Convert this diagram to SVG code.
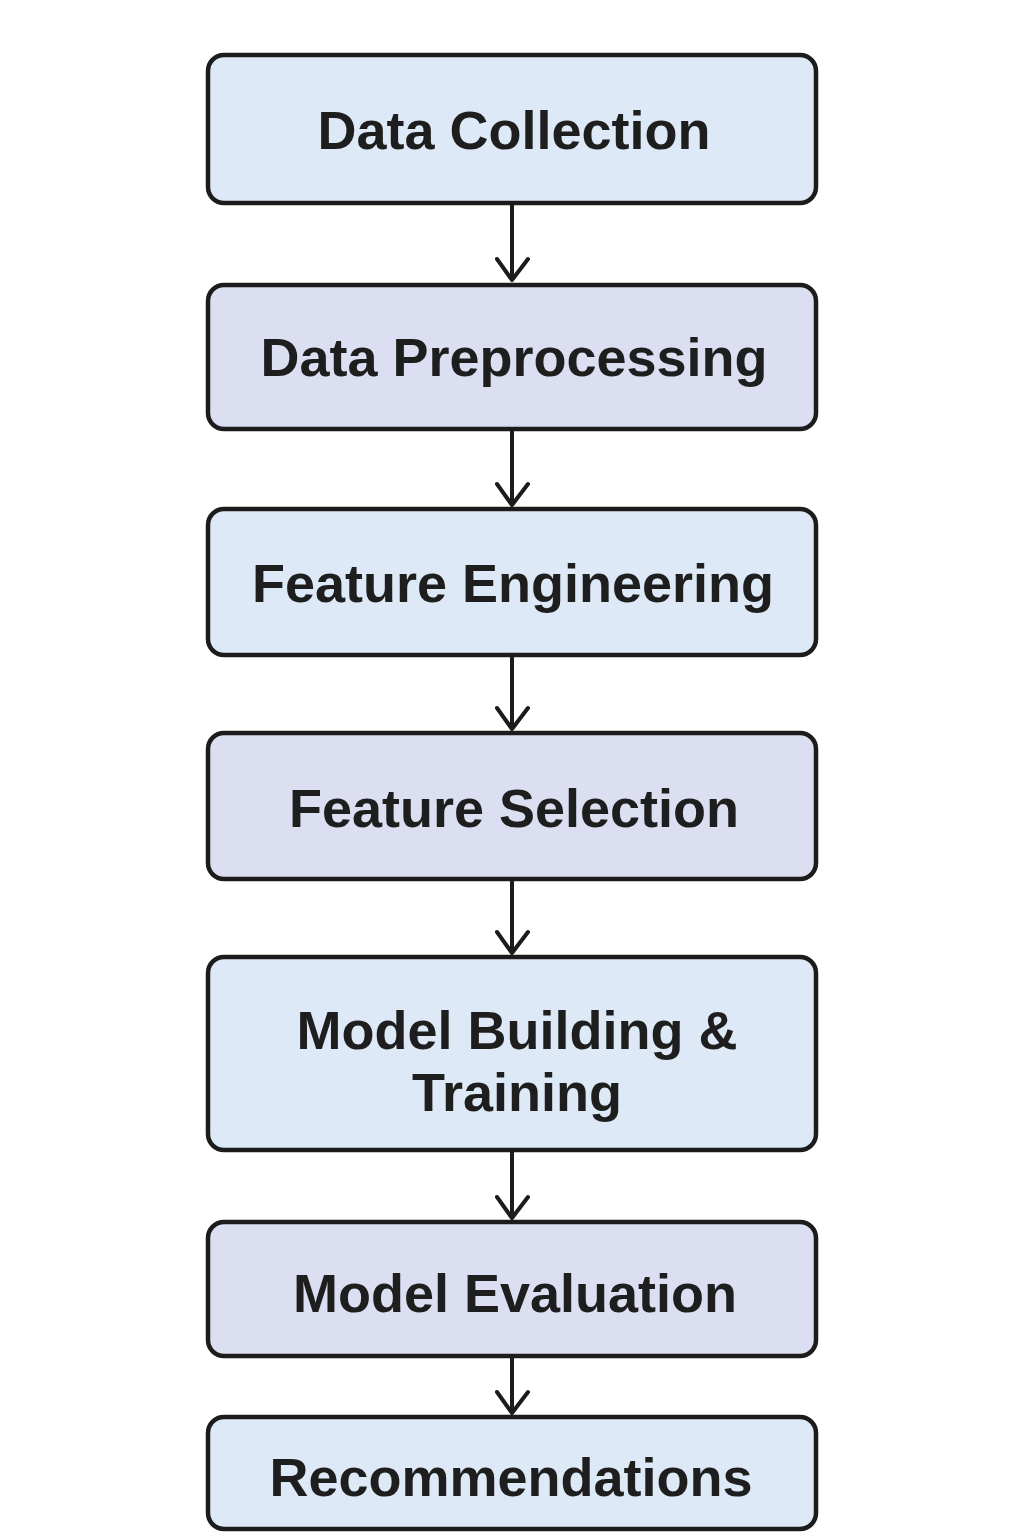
<svg xmlns="http://www.w3.org/2000/svg" width="1024" height="1536" viewBox="0 0 1024 1536">
  <defs>
    <style>
      .box { stroke: #1c1c1c; stroke-width: 4.5; }
      .blue { fill: #dde9f7; }
      .lav { fill: #dcdef1; }
      .label { font-family: "Liberation Sans", Arial, sans-serif; font-weight: bold; font-size: 54px; fill: #1e1e1e; text-anchor: middle; }
      .edge { stroke: #1c1c1c; stroke-width: 4; fill: none; stroke-linecap: round; stroke-linejoin: round; }
    </style>
  </defs>
  <rect width="1024" height="1536" fill="#ffffff"/>

  <!-- pipeline stages -->
  <g id="node-data-collection">
    <rect class="box blue" x="208" y="55" width="608" height="148" rx="16"/>
    <text class="label" x="514" y="149">Data Collection</text>
  </g>
  <g id="node-data-preprocessing">
    <rect class="box lav" x="208" y="285" width="608" height="144" rx="16"/>
    <text class="label" x="514" y="376">Data Preprocessing</text>
  </g>
  <g id="node-feature-engineering">
    <rect class="box blue" x="208" y="509" width="608" height="146" rx="16"/>
    <text class="label" x="513" y="602">Feature Engineering</text>
  </g>
  <g id="node-feature-selection">
    <rect class="box lav" x="208" y="733" width="608" height="146" rx="16"/>
    <text class="label" x="514" y="827">Feature Selection</text>
  </g>
  <g id="node-model-building">
    <rect class="box blue" x="208" y="957" width="608" height="193" rx="16"/>
    <text class="label" x="517" y="1049">Model Building &amp;</text>
    <text class="label" x="517" y="1111">Training</text>
  </g>
  <g id="node-model-evaluation">
    <rect class="box lav" x="208" y="1222" width="608" height="134" rx="16"/>
    <text class="label" x="515" y="1312">Model Evaluation</text>
  </g>
  <g id="node-recommendations">
    <rect class="box blue" x="208" y="1417" width="608" height="112" rx="16"/>
    <text class="label" x="511" y="1496">Recommendations</text>
  </g>

  <!-- flow connectors: vertical shaft plus open V head -->
  <g id="connectors" class="edge">
    <path d="M 512 205 V 280 M 497 259 L 512 280 L 528 259"/>
    <path d="M 512 431 V 505 M 497 484 L 512 505 L 528 484"/>
    <path d="M 512 657 V 729 M 497 708 L 512 729 L 528 708"/>
    <path d="M 512 881 V 953 M 497 932 L 512 953 L 528 932"/>
    <path d="M 512 1152 V 1218 M 497 1197 L 512 1218 L 528 1197"/>
    <path d="M 512 1358 V 1413 M 497 1392 L 512 1413 L 528 1392"/>
  </g>
</svg>
